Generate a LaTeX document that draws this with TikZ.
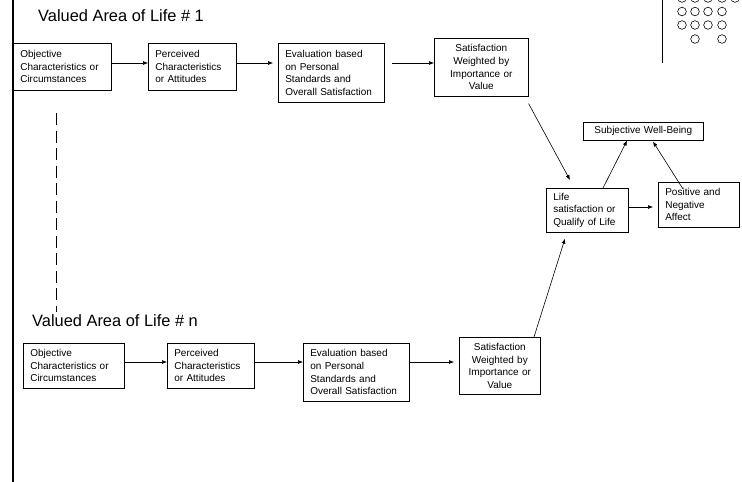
\documentclass[tikz,border=0pt]{standalone}
\usepackage{fontspec}
\setmainfont{Liberation Sans}
\usetikzlibrary{arrows.meta,calc}
\tikzset{
  box/.style={draw, line width=0.6pt, inner xsep=7pt, inner ysep=0pt, anchor=north west,
    font=\fontsize{10}{12.6}\selectfont, align=left},
  cbox/.style={box, align=center},
  arr/.style={-{Latex[length=5pt,width=4pt]}, line width=0.6pt},
  title/.style={anchor=base west, inner sep=0pt, font=\fontsize{16.4}{19}\selectfont},
  dot/.style={line width=0.6pt}
}
\begin{document}
\begin{tikzpicture}[x=1pt,y=-1pt]
\useasboundingbox (0,0) rectangle (742,482);
% frame lines
\draw[line width=2.5pt] (13,0) -- (13,482);
\draw[line width=0.8pt] (662,0) -- (662,63);
\foreach \x in {682,695,708,722,735} \draw[dot] (\x,-2) circle (4.3);
\foreach \y in {11.5,25} \foreach \x in {682,695,708,722} \draw[dot] (\x,\y) circle (4.3);
\foreach \x in {695,722} \draw[dot] (\x,39) circle (4.3);
% titles
\node[title] (T1) at (38,21.7) {Valued Area of Life \# 1};
\node[title] (T2) at (32,326.7) {Valued Area of Life \# n};
\draw[line width=0.7pt, dash pattern=on 12pt off 5.5pt] (56,113) -- (56,312);
% row 1
\node[box, text width=84pt, minimum height=47pt] (A1) at (13,43) {Objective\\Characteristics or\\Circumstances};
\node[box, text width=74pt, minimum height=47pt] (B1) at (148,43) {Perceived\\Characteristics\\or Attitudes};
\node[box, text width=92pt, minimum height=59pt] (C1) at (278,43) {Evaluation based\\on Personal\\Standards and\\Overall Satisfaction};
\node[cbox, text width=80pt, minimum height=58pt] (D1) at (434,38) {Satisfaction\\Weighted by\\Importance or\\Value};
% row 2
\node[box, text width=87pt, minimum height=45pt] (A2) at (23,343) {Objective\\Characteristics or\\Circumstances};
\node[box, text width=73pt, minimum height=45pt] (B2) at (167,343) {Perceived\\Characteristics\\or Attitudes};
\node[box, text width=92pt, minimum height=58pt] (C2) at (303,343) {Evaluation based\\on Personal\\Standards and\\Overall Satisfaction};
\node[cbox, text width=67pt, minimum height=57pt] (D2) at (459,337) {Satisfaction\\Weighted by\\Importance or\\Value};
% right side
\node[cbox, text width=106pt, minimum height=18pt] (SWB) at (583,122) {Subjective Well-Being};
\node[box, text width=68pt, minimum height=44pt] (Life) at (546,188) {Life\\satisfaction or\\Qualify of Life};
\node[box, text width=67pt, minimum height=45pt] (Pos) at (658,182) {Positive and\\Negative\\Affect};
% connectors
\coordinate (r1) at (0,63);
\coordinate (r2) at (0,362);
\coordinate (r3) at (0,207);
\draw[arr] (A1.east|-r1) -- (B1.west|-r1);
\draw[arr] (B1.east|-r1) -- ([xshift=-5pt]C1.west|-r1);
\draw[arr] ([xshift=7pt]C1.east|-r1) -- (D1.west|-r1);
\draw[arr] (A2.east|-r2) -- (B2.west|-r2);
\draw[arr] (B2.east|-r2) -- (C2.west|-r2);
\draw[arr] (C2.east|-r2) -- ([xshift=-5pt]D2.west|-r2);
\draw[arr] ([yshift=-7pt]D1.south east) -- ($(Life.north west)+(24,-8)$);
\draw[arr] ($(D2.north west)+(75,0)$) -- ($(Life.south west)+(19,6)$);
\draw[arr] ($(Life.north west)+(57,0)$) -- ($(SWB.south west)+(44,0)$);
\draw[arr] ($(Pos.north west)+(25,7)$) -- ($(SWB.south west)+(70,1)$);
\draw[arr] (Life.east|-r3) -- ([xshift=-5pt]Pos.west|-r3);
\end{tikzpicture}
\end{document}
